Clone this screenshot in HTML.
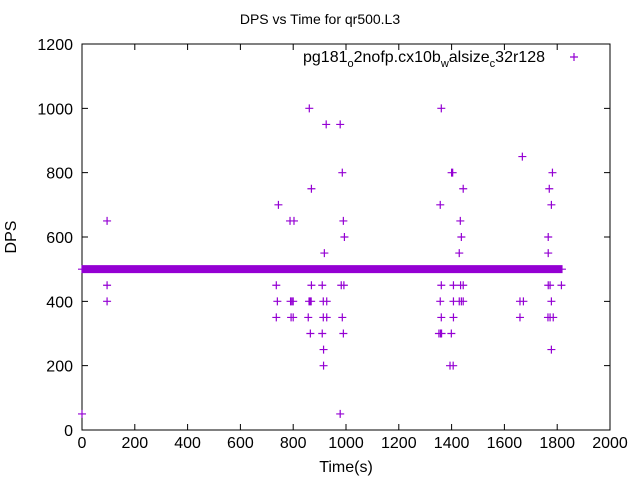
<!DOCTYPE html>
<html><head><meta charset="utf-8"><style>
body{margin:0;background:#fff}
svg{display:block;font-family:"Liberation Sans",sans-serif}
</style></head><body>
<svg id="chart" width="640" height="480">
<text x="320" y="24" text-anchor="middle" font-size="14">DPS vs Time for qr500.L3</text>
<text x="16" y="237" text-anchor="middle" font-size="16" transform="rotate(-90 16 237)">DPS</text>
<text x="346" y="472" text-anchor="middle" font-size="16">Time(s)</text>
<g id="axes"></g>
<g id="pts"></g>
<g>
<text x="545" y="62" text-anchor="end" font-size="16">pg181<tspan font-size="11" dy="5">o</tspan><tspan dy="-5">2nofp.cx10b</tspan><tspan font-size="11" dy="5">w</tspan><tspan dy="-5">alsize</tspan><tspan font-size="11" dy="5">c</tspan><tspan dy="-5">32r128</tspan></text>
<path d="M570 57h8M574 53v8" stroke="#9400d3" stroke-width="1.2"/>
</g>
</svg>
<script>
const xTicks=[0,200,400,600,800,1000,1200,1400,1600,1800,2000];
const yTicks=[0,200,400,600,800,1000,1200];
const ptTimes=[861,925,978,986,869,744,788,803,990,994,918,
736,869,910,982,992, 740,790,795,800,860,864,868,914,927, 736,792,800,857,914,927,986,
865,910,990,915,915,978,
1361,1668,1400,1404,1782,1444,1770,1357,1778,1433,1437,1766,1429,1766,
1361,1407,1434,1444,1766,1773,1816, 1357,1407,1429,1437,1444,1659,1672,1778,
1361,1407,1659,1765,1773,1785, 1352,1358,1362,1399, 1778, 1394,1406,
95,95,95,0];
const ptValues=[1000,950,950,800,750,700,650,650,650,600,550,
450,450,450,450,450, 400,400,400,400,400,400,400,400,400, 350,350,350,350,350,350,350,
300,300,300,250,200,50,
1000,850,800,800,800,750,750,700,700,650,600,600,550,550,
450,450,450,450,450,450,450, 400,400,400,400,400,400,400,400,
350,350,350,350,350,350, 300,300,300,300, 250, 200,200,
650,450,400,50];
const baseStart=0, baseEnd=1818, baseValue=500;
const X0=82,X1=610,Y0=430,Y1=44;
const xs=v=>X0+(v-0)/2000*(X1-X0);
const ys=v=>Y0-(v-0)/1200*(Y0-Y1);
const NS="http://www.w3.org/2000/svg";
const axes=document.getElementById('axes');
let d=`M${X0} ${Y1}H${X1}V${Y0}H${X0}Z`;
xTicks.forEach(t=>{const x=xs(t);d+=`M${x} ${Y0}v-6M${x} ${Y1}v6`;
 const tx=document.createElementNS(NS,'text');tx.setAttribute('x',x);tx.setAttribute('y',Y0+18);tx.setAttribute('text-anchor','middle');tx.setAttribute('font-size','16');tx.textContent=t;
 
 
 axes.appendChild(tx);});
yTicks.forEach(t=>{const y=ys(t);d+=`M${X0} ${y}h6M${X1} ${y}h-6`;
 const tx=document.createElementNS(NS,'text');tx.setAttribute('x',X0-9);tx.setAttribute('y',y+6);tx.setAttribute('text-anchor','end');tx.setAttribute('font-size','16');tx.textContent=t;
 
 
 axes.appendChild(tx);});
const fr=document.createElementNS(NS,'path');fr.setAttribute('d',d);fr.setAttribute('stroke','#000');fr.setAttribute('fill','none');


axes.appendChild(fr);
const pts=document.getElementById('pts');
let pd='';
for(let t=baseStart;t<=baseEnd;t+=2){const x=xs(t),y=ys(baseValue);pd+=`M${x-4} ${y}h8M${x} ${y-4}v8`;}
ptTimes.forEach((t,i)=>{const x=xs(t),y=ys(ptValues[i]);pd+=`M${x-4} ${y}h8M${x} ${y-4}v8`;});
const p=document.createElementNS(NS,'path');p.setAttribute('d',pd);p.setAttribute('stroke','#9400d3');p.setAttribute('stroke-width','1.2');p.setAttribute('fill','none');


pts.appendChild(p);
</script>
</body></html>
